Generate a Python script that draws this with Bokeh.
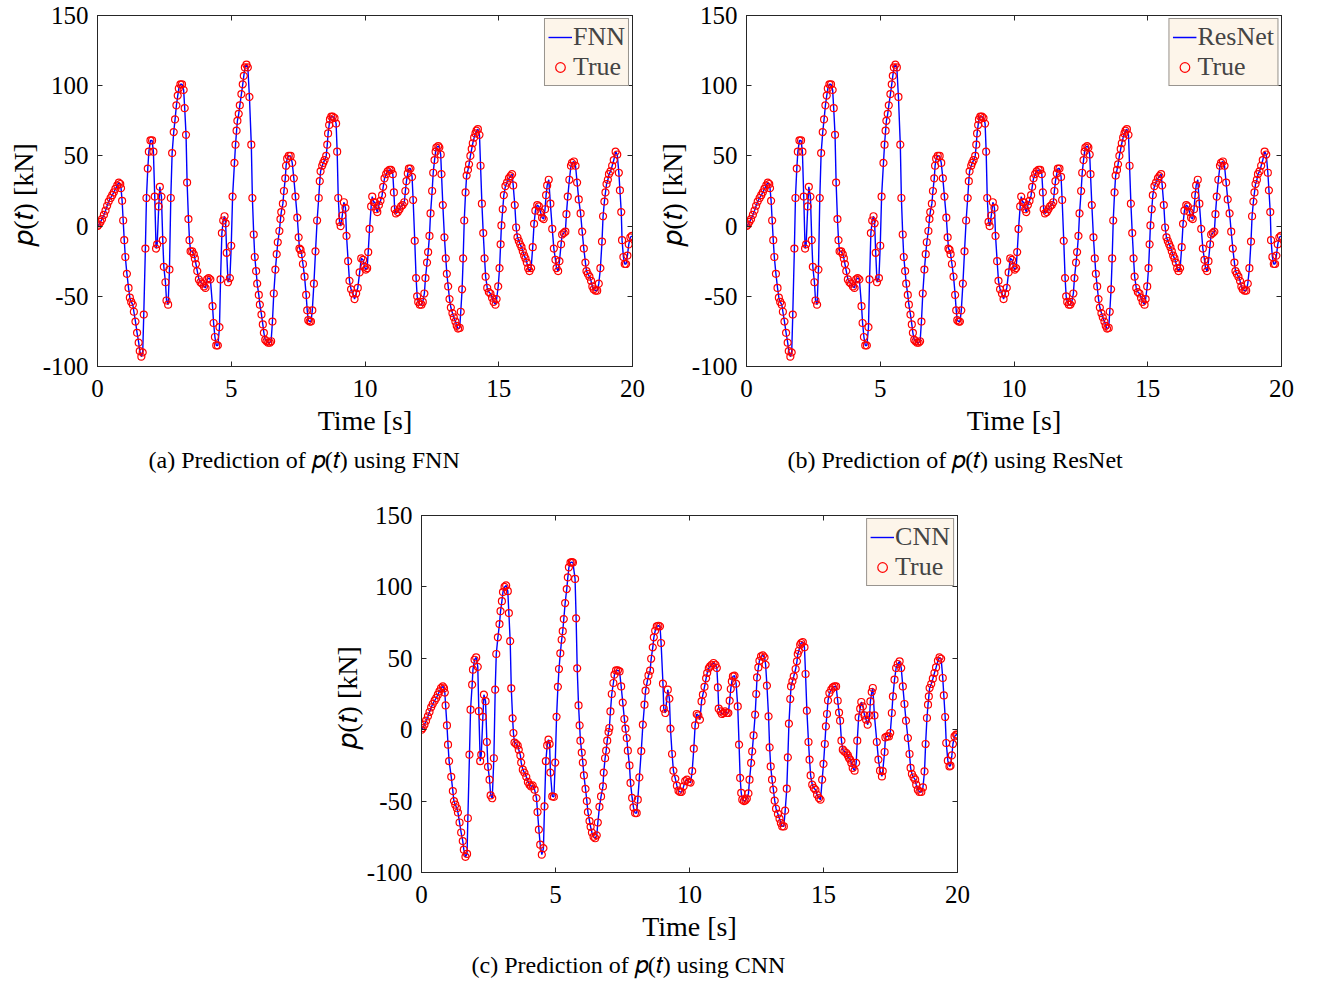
from bokeh.plotting import figure
from bokeh.models import (LinearAxis, Legend, LegendItem, FixedTicker, Range1d, Spacer,
                          CustomJSTickFormatter)
from bokeh.layouts import column, row
from bokeh.embed import file_html
from bokeh.resources import INLINE

FONT = "Liberation Serif"

# ---- data: FNN / ResNet panels (same signal) ----
t_a = [0, 0.05, 0.11, 0.17, 0.24, 0.3, 0.36, 0.42, 0.49, 0.55,
       0.61, 0.67, 0.74, 0.8, 0.85, 0.88, 0.92, 0.96, 1.0, 1.04,
       1.1, 1.16, 1.21, 1.26, 1.32, 1.36, 1.42, 1.48, 1.54, 1.58,
       1.64, 1.69, 1.73, 1.79, 1.83, 1.88, 1.92, 1.98, 2.04, 2.09,
       2.14, 2.19, 2.23, 2.29, 2.33, 2.39, 2.44, 2.48, 2.54, 2.58,
       2.64, 2.69, 2.74, 2.79, 2.85, 2.9, 2.95, 3.0, 3.04, 3.1,
       3.16, 3.22, 3.26, 3.31, 3.35, 3.4, 3.44, 3.48, 3.54, 3.6,
       3.64, 3.68, 3.73, 3.79, 3.85, 3.91, 3.98, 4.04, 4.1, 4.16,
       4.22, 4.3, 4.34, 4.39, 4.44, 4.5, 4.56, 4.6, 4.65, 4.7,
       4.75, 4.79, 4.83, 4.88, 4.95, 5.0, 5.05, 5.12, 5.16, 5.2,
       5.23, 5.28, 5.32, 5.38, 5.43, 5.47, 5.51, 5.57, 5.62, 5.68,
       5.75, 5.79, 5.84, 5.88, 5.93, 5.97, 6.03, 6.07, 6.13, 6.18,
       6.22, 6.27, 6.32, 6.38, 6.44, 6.49, 6.54, 6.59, 6.65, 6.7,
       6.74, 6.8, 6.84, 6.87, 6.93, 6.97, 7.02, 7.05, 7.09, 7.15,
       7.22, 7.28, 7.34, 7.4, 7.47, 7.52, 7.55, 7.59, 7.63, 7.68,
       7.74, 7.8, 7.84, 7.88, 7.93, 7.98, 8.03, 8.09, 8.15, 8.21,
       8.27, 8.31, 8.34, 8.4, 8.44, 8.49, 8.55, 8.59, 8.62, 8.66,
       8.69, 8.74, 8.8, 8.86, 8.92, 8.96, 9.0, 9.05, 9.09, 9.15,
       9.21, 9.27, 9.31, 9.37, 9.42, 9.48, 9.55, 9.61, 9.67, 9.73,
       9.8, 9.86, 9.93, 9.98, 10.03, 10.08, 10.12, 10.17, 10.23, 10.27,
       10.33, 10.37, 10.42, 10.46, 10.52, 10.58, 10.64, 10.68, 10.73, 10.79,
       10.85, 10.92, 10.98, 11.04, 11.08, 11.11, 11.16, 11.23, 11.29, 11.35,
       11.41, 11.47, 11.51, 11.55, 11.6, 11.64, 11.7, 11.76, 11.8, 11.86,
       11.91, 11.95, 11.99, 12.05, 12.11, 12.16, 12.22, 12.26, 12.32, 12.36,
       12.41, 12.45, 12.51, 12.55, 12.6, 12.64, 12.67, 12.74, 12.78, 12.83,
       12.86, 12.91, 12.97, 13.02, 13.06, 13.11, 13.16, 13.21, 13.27, 13.32,
       13.38, 13.43, 13.48, 13.54, 13.58, 13.63, 13.67, 13.71, 13.76, 13.8,
       13.85, 13.89, 13.94, 13.99, 14.03, 14.08, 14.13, 14.17, 14.22, 14.28,
       14.32, 14.37, 14.42, 14.47, 14.51, 14.57, 14.63, 14.69, 14.75, 14.81,
       14.88, 14.92, 14.98, 15.03, 15.07, 15.1, 15.15, 15.19, 15.25, 15.31,
       15.38, 15.44, 15.5, 15.54, 15.6, 15.65, 15.7, 15.75, 15.8, 15.85,
       15.9, 15.95, 16.0, 16.05, 16.1, 16.15, 16.21, 16.27, 16.32, 16.37,
       16.44, 16.5, 16.56, 16.62, 16.68, 16.73, 16.77, 16.81, 16.87, 16.93,
       17.0, 17.06, 17.12, 17.16, 17.22, 17.27, 17.33, 17.37, 17.43, 17.49,
       17.53, 17.58, 17.64, 17.7, 17.74, 17.81, 17.87, 17.93, 17.99, 18.06,
       18.12, 18.18, 18.24, 18.28, 18.33, 18.39, 18.45, 18.5, 18.55, 18.62,
       18.68, 18.74, 18.8, 18.86, 18.9, 18.95, 18.99, 19.03, 19.08, 19.12,
       19.18, 19.24, 19.3, 19.37, 19.43, 19.49, 19.53, 19.58, 19.61, 19.66,
       19.71, 19.76, 19.81, 19.86, 19.92, 19.98]
p_a = [0, 1, 3, 5, 8, 11, 14.5, 17.5, 20, 22,
       24, 26.5, 29, 31, 30, 27, 18, 4, -10, -22,
       -34, -44, -51, -54, -56, -61, -68, -76, -83, -89,
       -93, -90, -63, -16, 20, 41, 53, 61, 61, 53,
       21, -16, -13, 14, 28, 21, -10, -29, -40, -53,
       -56, -31, 20, 52, 67, 76, 86, 93, 98, 101,
       101, 97, 84, 65, 31, 5, -10, -18, -18, -20,
       -23, -27, -32, -38, -40, -41, -43, -44, -38, -37,
       -38, -57, -69, -79, -85, -85, -72, -38, -5, 4,
       7, 2, -19, -40, -37, -14, 21, 45, 58, 68,
       75, 80, 86, 94, 101, 107, 113, 115, 113, 92,
       58, 20, -6, -22, -32, -41, -49, -56, -63, -70,
       -76, -81, -82, -83, -83, -82, -68, -48, -31, -20,
       -11.5, -3.5, 5, 10, 16, 25, 34, 43, 48, 50,
       50, 45, 34, 21, 6, -8, -16, -17, -20, -27,
       -36, -49, -60, -67, -68, -68, -60, -41, -18, 4,
       20, 32, 39, 43, 45, 47, 50, 58, 66, 72,
       76, 78, 78, 77, 73, 53, 20, 3, 0, 7.5,
       17, 13, -7, -25, -39, -45, -48, -52, -48, -44,
       -33, -23, -24, -29, -31, -30, -18.5, -2, 14, 21,
       17, 17, 12, 10, 15, 18, 22, 28, 34, 37,
       39, 40, 40, 37, 24, 12, 9, 10, 12, 14,
       15, 17, 25, 32, 37.5, 41, 41, 35, 18.6, -10.5,
       -37, -50, -54, -56, -56, -54, -48, -37, -26, -18.5,
       -7, 9, 25, 38, 47, 53, 56, 57, 56, 51,
       37, 15, -8, -23, -34, -43, -52, -58, -62, -65,
       -68, -71, -73, -72.5, -61, -45, -23, 4, 24, 36,
       40, 44, 50, 55, 59, 63, 66, 68, 69, 65,
       43, 16, -5, -23, -36, -44, -47, -48, -51, -54,
       -56, -52, -43, -30, -13, 0.5, 12, 22, 28.5, 31,
       34, 35.6, 37, 29, 15, -1, -8, -10.6, -13, -15,
       -18, -21, -23, -26, -30, -32, -30, -15, 1.6, 11,
       15, 14, 10, 6, 5, 12, 22, 29, 33, 16,
       -2, -16, -24, -30, -32, -25, -13, -6, -5, -4,
       8.5, 21, 33, 43, 45, 46, 43, 31, 19, 9,
       -4, -16, -26, -32, -34, -36, -39, -43, -45, -46,
       -46, -41, -30, -11, 7, 17.5, 24, 30, 33, 37,
       39, 43, 47, 53, 51, 38, 25.5, 10, -10, -22,
       -27, -27, -21, -13, -8, -7]

# ---- data: CNN panel ----
t_c = [0, 0.05, 0.11, 0.17, 0.24, 0.3, 0.36, 0.42, 0.49, 0.55,
       0.61, 0.67, 0.73, 0.8, 0.84, 0.87, 0.9, 0.95, 0.99, 1.03,
       1.11, 1.17, 1.21, 1.26, 1.32, 1.36, 1.42, 1.48, 1.54, 1.58,
       1.64, 1.7, 1.73, 1.79, 1.83, 1.89, 1.92, 1.98, 2.04, 2.1,
       2.14, 2.19, 2.23, 2.29, 2.33, 2.39, 2.44, 2.48, 2.54, 2.58,
       2.64, 2.7, 2.75, 2.79, 2.85, 2.91, 2.95, 3.0, 3.04, 3.1,
       3.16, 3.22, 3.26, 3.31, 3.35, 3.4, 3.43, 3.47, 3.53, 3.59,
       3.63, 3.69, 3.72, 3.78, 3.84, 3.91, 3.97, 4.03, 4.09, 4.15,
       4.22, 4.29, 4.33, 4.38, 4.43, 4.49, 4.55, 4.59, 4.64, 4.69,
       4.74, 4.78, 4.81, 4.88, 4.94, 4.99, 5.04, 5.09, 5.13, 5.18,
       5.23, 5.27, 5.31, 5.36, 5.42, 5.46, 5.5, 5.56, 5.61, 5.65,
       5.73, 5.77, 5.81, 5.86, 5.9, 5.93, 5.98, 6.02, 6.06, 6.12,
       6.17, 6.21, 6.27, 6.31, 6.36, 6.42, 6.48, 6.54, 6.58, 6.64,
       6.7, 6.77, 6.8, 6.85, 6.89, 6.93, 6.98, 7.01, 7.05, 7.1,
       7.16, 7.2, 7.26, 7.33, 7.39, 7.45, 7.51, 7.57, 7.61, 7.66,
       7.7, 7.76, 7.8, 7.86, 7.91, 7.97, 8.03, 8.07, 8.13, 8.2,
       8.26, 8.32, 8.36, 8.42, 8.47, 8.53, 8.57, 8.63, 8.67, 8.72,
       8.78, 8.84, 8.9, 8.94, 9.01, 9.04, 9.1, 9.19, 9.25, 9.29,
       9.35, 9.4, 9.47, 9.53, 9.59, 9.65, 9.71, 9.78, 9.84, 9.91,
       9.98, 10.04, 10.1, 10.16, 10.21, 10.27, 10.33, 10.39, 10.45, 10.5,
       10.56, 10.62, 10.66, 10.72, 10.77, 10.83, 10.9, 10.97, 11.02, 11.06,
       11.09, 11.16, 11.21, 11.27, 11.33, 11.39, 11.45, 11.5, 11.54, 11.58,
       11.62, 11.68, 11.74, 11.8, 11.85, 11.89, 11.93, 11.97, 12.03, 12.09,
       12.14, 12.2, 12.24, 12.3, 12.34, 12.39, 12.45, 12.49, 12.52, 12.57,
       12.61, 12.67, 12.74, 12.8, 12.84, 12.89, 12.95, 12.99, 13.03, 13.08,
       13.13, 13.18, 13.23, 13.3, 13.36, 13.41, 13.46, 13.52, 13.57, 13.63,
       13.67, 13.71, 13.76, 13.79, 13.84, 13.89, 13.96, 14.01, 14.04, 14.08,
       14.13, 14.17, 14.23, 14.29, 14.33, 14.38, 14.44, 14.48, 14.52, 14.58,
       14.64, 14.7, 14.76, 14.83, 14.89, 14.95, 15.0, 15.05, 15.09, 15.13,
       15.17, 15.22, 15.29, 15.35, 15.41, 15.47, 15.53, 15.58, 15.62, 15.67,
       15.72, 15.78, 15.85, 15.91, 15.95, 16.0, 16.04, 16.09, 16.16, 16.22,
       16.26, 16.31, 16.37, 16.41, 16.47, 16.53, 16.59, 16.65, 16.72, 16.75,
       16.8, 16.84, 16.9, 16.99, 17.05, 17.11, 17.18, 17.21, 17.28, 17.31,
       17.38, 17.44, 17.49, 17.55, 17.59, 17.65, 17.71, 17.77, 17.84, 17.9,
       17.96, 18.02, 18.08, 18.15, 18.21, 18.25, 18.3, 18.36, 18.42, 18.46,
       18.52, 18.58, 18.65, 18.71, 18.77, 18.81, 18.86, 18.9, 18.93, 18.96,
       19.02, 19.08, 19.14, 19.2, 19.27, 19.33, 19.39, 19.45, 19.49, 19.54,
       19.58, 19.64, 19.7, 19.74, 19.79, 19.83, 19.89, 19.95, 19.99]
p_c = [0, 1.2, 3.5, 6.3, 9.3, 12.4, 15.6, 18, 20.3, 22.2,
       24.5, 26.8, 29.2, 30.3, 29, 26, 17, 3, -10.5, -22,
       -33, -43, -50, -52.5, -55, -58, -65, -72, -78, -84,
       -89, -87, -62, -17.5, 14, 31.5, 42, 49, 50.6, 44,
       13, -22, -17.5, 9, 24.5, 20, -8.6, -26, -35, -46,
       -48, -20, 28, 53, 64.7, 74, 83, 90, 96.4, 100,
       101, 97, 81.7, 62, 29, 8, -2.3, -9, -10, -11,
       -14, -18, -23, -28, -30, -33, -36.6, -38.5, -39.7, -39,
       -42, -47.9, -57.7, -70, -80.5, -87.5, -83, -53.7, -22, -11,
       -7, -10, -30, -46.7, -47, -23, 9, 30, 42.5, 53.5,
       63, 69, 77.5, 88.7, 98.5, 106.7, 113.7, 117, 117.4, 117,
       105.6, 78, 43, 17, 3, -7.7, -16, -23, -32, -41.5,
       -50, -57.7, -64, -68, -72, -75, -76, -74, -65, -54,
       -46.7, -39.7, -30, -20, -14.7, -7.7, -1.6, 1.2, 12.8, 25,
       32.7, 38.5, 41.5, 41.5, 40.8, 30.3, 19, 7.5, 0.7, -5.8,
       -14.7, -25, -37.3, -47.8, -54.4, -58.4, -58.4, -49, -33.4, -15,
       3.5, 17.5, 27.3, 33.4, 38, 41.3, 49.7, 57.7, 64.7, 69.3,
       72.4, 72.8, 72.4, 60.7, 32.2, 14.7, 11.7, 28, 21.7, 0.7,
       -17, -28.7, -34.3, -39.2, -42.7, -43.6, -43.6, -39.7, -36, -35,
       -36.6, -37, -29, -13.3, 3, 11, 10, 7, 19.8, 24.5,
       30, 36, 39.7, 43, 44.3, 45.5, 46.7, 45.5, 43.2, 29.6,
       14.7, 12.8, 11, 11.7, 12.8, 11.7, 11.7, 20.3, 28.5, 33.8,
       37.3, 37.8, 32.2, 16.3, -10.5, -33.8, -44.3, -49, -50, -49.5,
       -48.3, -44.6, -35, -23.3, -15.2, -4, 10.5, 25, 36.6, 43.6,
       48.3, 51.3, 52, 50.6, 45.5, 30.8, 9.3, -12.4, -25.7, -35,
       -42, -49.7, -55.3, -59, -62.3, -65.4, -67.7, -67.7, -56.7, -41.3,
       -19.4, 4.2, 21.5, 30.3, 33.8, 37.3, 42.5, 47.9, 53, 55.3,
       59.5, 60.7, 61.4, 57.7, 39, 13.3, -8.6, -21, -32, -38.5,
       -40.8, -42, -45.5, -47.9, -49, -35, -24, -10, 2.3, 11,
       20.5, 25.7, 28, 29.6, 30.3, 30.3, 20.3, 12, 6.3, -7.7,
       -14, -15.2, -16.3, -18, -19.8, -21, -23.3, -26.8, -28.7, -23.3,
       -7.7, 8.6, 14.7, 19.4, 16.3, 10, 7, 3.5, 10, 19.8,
       26.4, 29.2, 10, -8.6, -21, -28.7, -32.7, -29, -15.6, -5.4,
       -4.7, -4.7, -2.3, 11.7, 23.3, 35, 43.2, 46, 47.9, 43.2,
       30.3, 18, 6.3, -5.8, -17, -26.8, -31, -33.4, -35, -38.5,
       -42, -43.6, -43.6, -40.4, -29.2, -10, 8.2, 17.5, 23.3, 29.2,
       32, 35.7, 39.7, 43.6, 48.3, 50.6, 49.7, 36.2, 24, 8.9,
       -9.3, -21.7, -25.7, -25.2, -18, -10, -4.7, -3.5, -3.5]

x_ticks = [0, 5, 10, 15, 20]
y_ticks = [-100, -50, 0, 50, 100, 150]
y_label = "\U0001D45D(\U0001D461)  [kN]"
PT = "\U0001D45D(\U0001D461)"

AX = "#262626"


def make(t, p, name, caption, left, right, top, frame_w, frame_h, bottom, cap_off, cap_standoff):
    n = min(len(t), len(p))
    t, p = t[:n], p[:n]
    f = figure(width=left + frame_w + right, height=top + frame_h + bottom,
               min_border_left=left, min_border_right=right,
               min_border_top=top, min_border_bottom=bottom,
               x_range=Range1d(0, 20), y_range=Range1d(-100, 150),
               output_backend="svg", toolbar_location=None,
               title=caption, title_location="below")
    f.grid.visible = False
    f.outline_line_color = AX
    f.background_fill_color = "white"
    f.border_fill_color = "white"
    f.title.text_font = FONT
    f.title.text_font_size = "24px"
    f.title.text_font_style = "normal"
    f.title.text_color = "black"
    f.title.align = "left"
    f.title.offset = cap_off
    f.title.standoff = cap_standoff
    fmt = CustomJSTickFormatter(code="return tick.toString();")
    for ax in (f.xaxis[0], f.yaxis[0]):
        ax.formatter = fmt
        ax.major_label_text_font = FONT
        ax.major_label_text_font_size = "25px"
        ax.major_label_text_color = "black"
        ax.axis_label_text_font = FONT
        ax.axis_label_text_font_size = "28px"
        ax.axis_label_text_font_style = "normal"
        ax.axis_label_text_color = "black"
        ax.axis_line_color = AX
        ax.major_tick_line_color = AX
        ax.major_tick_in = 5
        ax.major_tick_out = 0
        ax.minor_tick_line_color = None
    f.xaxis[0].ticker = FixedTicker(ticks=x_ticks)
    f.yaxis[0].ticker = FixedTicker(ticks=y_ticks)
    f.xaxis[0].axis_label = "Time [s]"
    f.xaxis[0].major_label_standoff = 13
    f.xaxis[0].axis_label_standoff = 5
    f.yaxis[0].axis_label = y_label
    f.yaxis[0].major_label_standoff = 9
    f.yaxis[0].axis_label_standoff = 1
    for loc, tk in (("right", y_ticks), ("above", x_ticks)):
        a = LinearAxis(ticker=FixedTicker(ticks=tk), major_label_text_color=None,
                       major_label_text_font_size="1px",
                       major_tick_in=5, major_tick_out=0, minor_tick_line_color=None,
                       axis_line_color=AX, major_tick_line_color=AX, major_label_standoff=0)
        f.add_layout(a, loc)

    ln = f.line(t, p, line_color="#0000FF", line_width=1.4)
    sc = f.scatter(t, p, marker="circle", size=7, fill_color=None,
                   line_color="#FF0000", line_width=1.2)
    leg = Legend(items=[LegendItem(label=name, renderers=[ln]),
                        LegendItem(label="True", renderers=[sc])],
                 location="top_right")
    leg.label_text_font = FONT
    leg.label_text_font_size = "26px"
    leg.label_height = 26
    leg.glyph_height = 26
    leg.glyph_width = 24
    leg.label_standoff = 1
    leg.spacing = 0
    leg.padding = 3
    leg.margin = 3
    leg.border_line_color = "#333333"
    leg.border_line_width = 1
    leg.background_fill_color = "#FDF5EA"
    leg.background_fill_alpha = 1
    f.add_layout(leg)
    return f


p1 = make(t_a, p_a, "FNN", "(a) Prediction of " + PT + " using FNN",
          97, 21, 15, 535, 351, 118, 51, 13)
p2 = make(t_a, p_a, "ResNet", "(b) Prediction of " + PT + " using ResNet",
          93, 25, 15, 535, 351, 118, 41, 13)
p3 = make(t_c, p_c, "CNN", "(c) Prediction of " + PT + " using CNN",
          93, 25, 31, 536, 357, 113, 50, 11)

layout = column(row(p1, p2), row(Spacer(width=328, height=10), p3))
open("out.html", "w").write(file_html(layout, INLINE))
